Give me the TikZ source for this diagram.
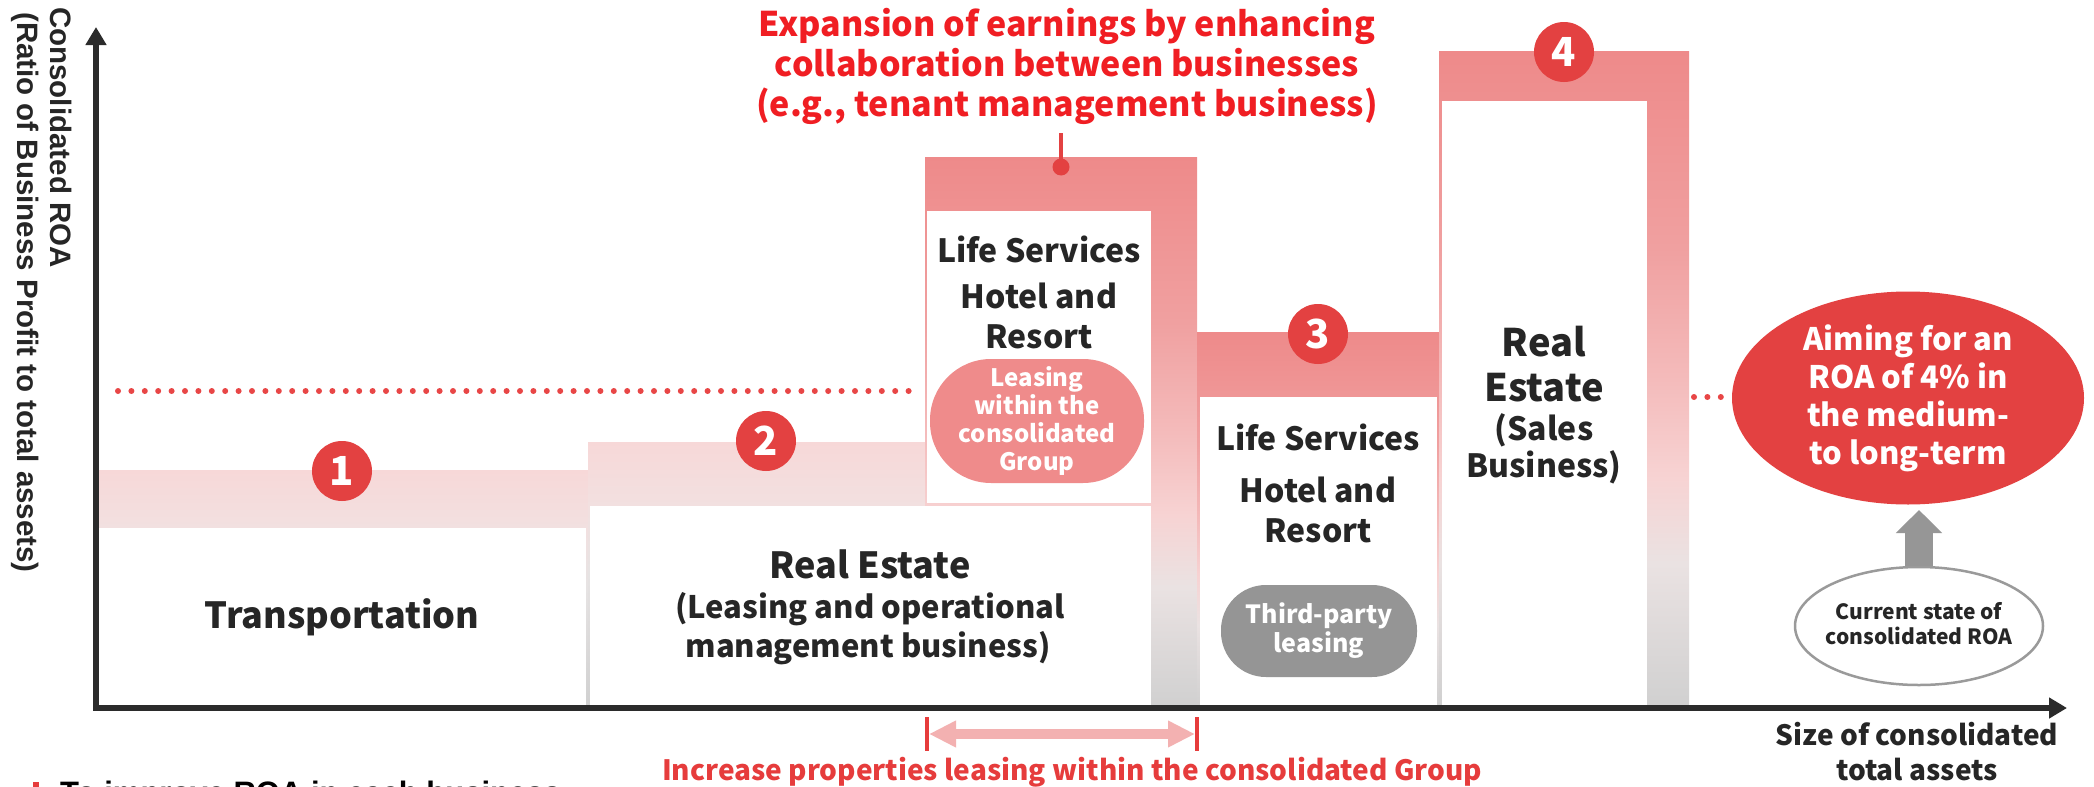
\documentclass[tikz,border=0pt]{standalone}
\usepackage{fontspec}
\setmainfont{Noto Sans CJK JP}
\newfontfamily\lsans{Liberation Sans}
\usetikzlibrary{arrows.meta,shapes.geometric,shapes.misc}
\definecolor{axisc}{HTML}{2B2B2B}
\definecolor{txt}{HTML}{262626}
\definecolor{badgec}{HTML}{E34141}
\definecolor{titred}{HTML}{F01E23}
\definecolor{lblred}{HTML}{E63C3C}
\definecolor{pillpink}{HTML}{EF8B8B}
\definecolor{pillgray}{HTML}{959595}
\definecolor{arrpink}{HTML}{F3B1B1}
\definecolor{dotred}{HTML}{E84646}
\definecolor{upgray}{HTML}{969696}
\definecolor{ellgray}{HTML}{9A9A9A}
\definecolor{cgA}{HTML}{D0D0D0}
\definecolor{cgB}{HTML}{EAE2E2}
\definecolor{cgC}{HTML}{F7D3D3}
\definecolor{cgD}{HTML}{F4BBBB}
\definecolor{cgE}{HTML}{F0A0A0}
\definecolor{cgF}{HTML}{EE8A8A}
\definecolor{bgB}{HTML}{E6E3E3}
\definecolor{bgC}{HTML}{F2E0E0}
\definecolor{bgD}{HTML}{F7D8D8}
\pgfdeclareverticalshading{colgrad}{100bp}{color(0bp)=(cgA); color(25bp)=(cgA); color(36bp)=(cgB); color(42.5bp)=(cgC); color(50bp)=(cgD); color(60bp)=(cgE); color(75bp)=(cgF); color(100bp)=(cgF)}
\pgfdeclareverticalshading{bandgrad}{100bp}{color(0bp)=(cgA); color(25bp)=(cgA); color(50bp)=(bgB); color(63bp)=(bgC); color(75bp)=(bgD); color(100bp)=(bgD)}
\newcommand\myfs[2]{\fontsize{#1pt}{#2pt}\selectfont}
\tikzset{
  lbl/.style={inner sep=0pt, text=txt, anchor=base, font=\bfseries\myfs{#1}{#1}},
  lbl/.default=32,
  titl/.style={inner sep=0pt, text=titred, anchor=base, font=\bfseries\myfs{34}{34}},
  badge/.style={circle, fill=badgec, minimum size=60pt, inner sep=0pt, text=white, font=\bfseries\myfs{40}{40}},
  dotline/.style={dotred, line width=6pt, line cap=round, dash pattern=on 0pt off 13.4pt},
  axisline/.style={axisc, line width=6.5pt, {Triangle[width=20pt,length=18pt]}-{Triangle[width=20pt,length=18pt]}},
  ylbl/.style={inner sep=0pt, text=txt, anchor=base west, rotate=-90, font=\lsans\bfseries\myfs{29.5}{29.5}},
  whitetxt/.style={inner sep=0pt, text=white, align=center, font=\bfseries\myfs{#1}{#1}},
}
\begin{document}
\begin{tikzpicture}[x=1pt,y=-1pt]
\useasboundingbox (0,0) rectangle (2094,787);
\fill[white] (0,0) rectangle (2094,787);
% bands and columns
\shade[shading=bandgrad] (96,470) rectangle (590,708);
\shade[shading=bandgrad] (588,442) rectangle (1197,708);
\shade[shading=colgrad] (925,157) rectangle (1197,708);
\shade[shading=colgrad] (1197,332) rectangle (1440,708);
\shade[shading=colgrad] (1439,51) rectangle (1689,708);
% white boxes
\fill[white] (96,528) rectangle (586,708);
\fill[white] (590,506) rectangle (1151,708);
\fill[white] (927,211) rectangle (1151,503);
\fill[white] (1200,397) rectangle (1437,708);
\fill[white] (1442,101) rectangle (1647,708);
% title
\node[titl] (ti1) at (1067,36) {Expansion of earnings by enhancing};
\node[titl] (ti2) at (1067,76) {collaboration between businesses};
\node[titl] (ti3) at (1067,116) {(e.g., tenant management business)};
\coordinate (ctop) at (1061,133);
\node[circle, fill=badgec, minimum size=17pt, inner sep=0pt] (cdot) at (1061,167) {};
\draw[badgec, line width=4.5pt] (ctop) -- (cdot.center);
% red goal ellipse
\node[ellipse, fill=badgec, minimum width=352pt, minimum height=213pt, inner sep=0pt, text=white, align=center, font=\bfseries\myfs{31}{38}] (goal) at (1908,398) {Aiming for an\\ROA of 4\% in\\the medium-\\to long-term};
% dotted line
\coordinate (dL) at (118,391);
\coordinate (dM) at (921,391);
\coordinate (dR) at (1694,397);
\draw[dotline] (dL) -- (dM);
\draw[dotline] (dR) -- (dR -| goal.west);
% badges
\node[badge] (b1) at (342,471) {1};
\node[badge] (b2) at (766,441) {2};
\node[badge] (b3) at (1318,334) {3};
\node[badge] (b4) at (1564,52) {4};
% box 1
\node[lbl=36] (t1) at (342,628) {Transportation};
% box 2
\node[lbl=36] (t2a) at (870,578) {Real Estate};
\node[lbl=31] (t2b) at (870,618) {(Leasing and operational};
\node[lbl=31] (t2c) at (868,657) {management business)};
% column 2
\node[lbl=32] (c2a) at (1039,262) {Life Services};
\node[lbl=32] (c2b) at (1039,308) {Hotel and};
\node[lbl=32] (c2c) at (1039,348) {Resort};
\node[rectangle, rounded corners=61pt, minimum width=214pt, minimum height=124pt, fill=pillpink, inner sep=0pt] (pp) at (1037,421) {};
\node[whitetxt={24}, font=\bfseries\myfs{24}{28}] (pptxt) at (pp.center) {Leasing\\within the\\consolidated\\Group};
% box 3
\node[lbl=32] (c3a) at (1318,450) {Life Services};
\node[lbl=32] (c3b) at (1318,502) {Hotel and};
\node[lbl=32] (c3c) at (1318,542) {Resort};
\node[rectangle, rounded corners=45pt, minimum width=196pt, minimum height=92pt, fill=pillgray, inner sep=0pt] (gp) at (1319,631) {};
\node[whitetxt={25}, font=\bfseries\myfs{25}{29}] (gptxt) at (gp.center) {Third-party\\leasing};
% column 4
\node[lbl=38] (c4a) at (1544,356) {Real};
\node[lbl=38] (c4b) at (1544,401) {Estate};
\node[lbl=32] (c4c) at (1544,440) {(Sales};
\node[lbl=32] (c4d) at (1544,477) {Business)};
% current state ellipse and arrow
\node[ellipse, draw=ellgray, line width=2.5pt, fill=white, minimum width=248pt, minimum height=118pt, inner sep=0pt] (cur) at (1919,626) {};
\node[inner sep=0pt, text=txt, align=center, font=\bfseries\myfs{21}{25}] (curtxt) at (1919,624) {Current state of\\consolidated ROA};
\coordinate (uptip) at (1919,510);
\draw[upgray, line width=28pt, -{Triangle[width=45pt,length=23pt]}] (cur.north) -- (uptip);
% axes
\coordinate (O) at (96,708);
\coordinate (ytip) at (96,27);
\coordinate (xtip) at (2067,708);
\draw[axisline] (ytip) -- (O) -- (xtip);
\node[ylbl] (yl1) at (50,7) {Consolidated ROA};
\node[ylbl] (yl2) at (17,12) {(Ratio of Business Profit to total assets)};
\node[lbl=28] (xl1) at (1917,745) {Size of consolidated};
\node[lbl=28] (xl2) at (1917,780) {total assets};
% double arrow below axis
\coordinate (aL) at (927,734);
\coordinate (aR) at (1197,734);
\draw[lblred, line width=3.5pt] ([yshift=17pt]aL) -- ([yshift=-17pt]aL);
\draw[lblred, line width=3.5pt] ([yshift=17pt]aR) -- ([yshift=-17pt]aR);
\draw[arrpink, line width=10pt, {Triangle[width=25pt,length=27pt]}-{Triangle[width=25pt,length=27pt]}] ([xshift=2pt]aL) -- ([xshift=-2pt]aR);
\node[inner sep=0pt, anchor=base, text=lblred, font=\bfseries\myfs{28}{28}] (inc) at (1072,780) {Increase properties leasing within the consolidated Group};
% bottom-left partially visible line
\fill[lblred] (33,782) rectangle (39,808);
\node[inner sep=0pt, anchor=base west, text=black, font=\lsans\bfseries\myfs{31}{31}] (bl) at (60,803) {To improve ROA in each business};
\end{tikzpicture}
\end{document}
